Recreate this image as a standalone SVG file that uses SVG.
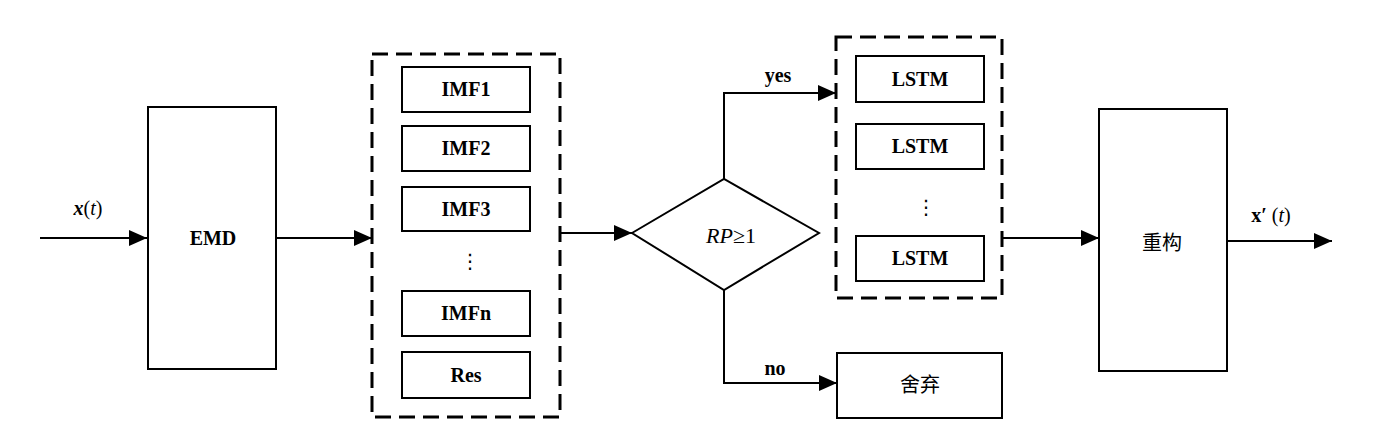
<svg xmlns="http://www.w3.org/2000/svg" width="1380" height="435" viewBox="0 0 1380 435">
<style>
.box{fill:#fff;stroke:#000;stroke-width:2}
.dash{fill:none;stroke:#000;stroke-width:3;stroke-dasharray:16 8}
.lbl{font-family:"Liberation Serif",serif;font-weight:bold;font-size:20px;text-anchor:middle;fill:#000}
.cjk{font-family:"Liberation Serif","Noto Sans CJK SC",serif;font-size:20px;text-anchor:middle;fill:#000}
.dots{font-family:"DejaVu Sans",sans-serif;font-size:20px;text-anchor:middle;fill:#000}
.conn{fill:none;stroke:#000;stroke-width:2;marker-end:url(#arr)}
</style>
<defs>
<marker id="arr" markerUnits="userSpaceOnUse" markerWidth="18" markerHeight="16" refX="18" refY="8" orient="auto">
<path d="M0,0 L18,8 L0,16 z" fill="#000"/>
</marker>
</defs>
<g id="connectors">
<path class="conn" d="M40,238 H147"/>
<path class="conn" d="M276,238 H372"/>
<path class="conn" d="M560,233 H632"/>
<path class="conn" d="M724,179 V93 H836"/>
<path class="conn" d="M724,290 V383 H837"/>
<path class="conn" d="M1002,238 H1099"/>
<path class="conn" d="M1227,241 H1332"/>
<text class="lbl" x="88" y="215"><tspan font-style="italic">x</tspan><tspan font-weight="normal">(</tspan><tspan font-style="italic" font-weight="normal">t</tspan><tspan font-weight="normal">)</tspan></text>
<text class="lbl" x="778" y="82">yes</text>
<text class="lbl" x="775" y="375">no</text>
<text class="lbl" x="1271" y="222">x′ <tspan font-weight="normal">(</tspan><tspan font-style="italic" font-weight="normal">t</tspan><tspan font-weight="normal">)</tspan></text>
</g>
<g id="emd">
<rect class="box" x="148" y="107" width="128" height="262"/>
<text class="lbl" x="213" y="245">EMD</text>
</g>
<g id="imf-group">
<rect class="dash" x="372" y="54" width="188" height="363"/>
</g>
<g id="imf1"><rect class="box" x="402" y="67" width="128" height="45"/><text class="lbl" x="466" y="96">IMF1</text></g>
<g id="imf2"><rect class="box" x="402" y="126" width="128" height="45"/><text class="lbl" x="466" y="155">IMF2</text></g>
<g id="imf3"><rect class="box" x="402" y="187" width="128" height="44"/><text class="lbl" x="466" y="216">IMF3</text></g>
<g id="imf-dots"><text class="dots" x="470" y="268">⋮</text></g>
<g id="imfn"><rect class="box" x="402" y="291" width="128" height="45"/><text class="lbl" x="466" y="320">IMFn</text></g>
<g id="res"><rect class="box" x="402" y="352" width="128" height="46"/><text class="lbl" x="466" y="382">Res</text></g>
<g id="decision">
<polygon class="box" points="632,233 724,179 819,233 724,290"/>
<text x="731" y="243" font-family="Liberation Serif,serif" font-size="22" text-anchor="middle"><tspan font-style="italic">RP</tspan>≥1</text>
</g>
<g id="lstm-group">
<rect class="dash" x="836" y="37" width="166" height="261"/>
</g>
<g id="lstm1"><rect class="box" x="856" y="56" width="128" height="46"/><text class="lbl" x="920" y="86">LSTM</text></g>
<g id="lstm2"><rect class="box" x="856" y="124" width="128" height="45"/><text class="lbl" x="920" y="153">LSTM</text></g>
<g id="lstm-dots"><text class="dots" x="926" y="214">⋮</text></g>
<g id="lstm3"><rect class="box" x="856" y="236" width="128" height="45"/><text class="lbl" x="920" y="265">LSTM</text></g>
<g id="discard">
<rect class="box" x="837" y="353" width="165" height="65"/>
<text class="cjk" x="920" y="392">舍弃</text>
</g>
<g id="reconstruct">
<rect class="box" x="1099" y="109" width="128" height="262"/>
<text class="cjk" x="1162" y="250">重构</text>
</g>
</svg>
